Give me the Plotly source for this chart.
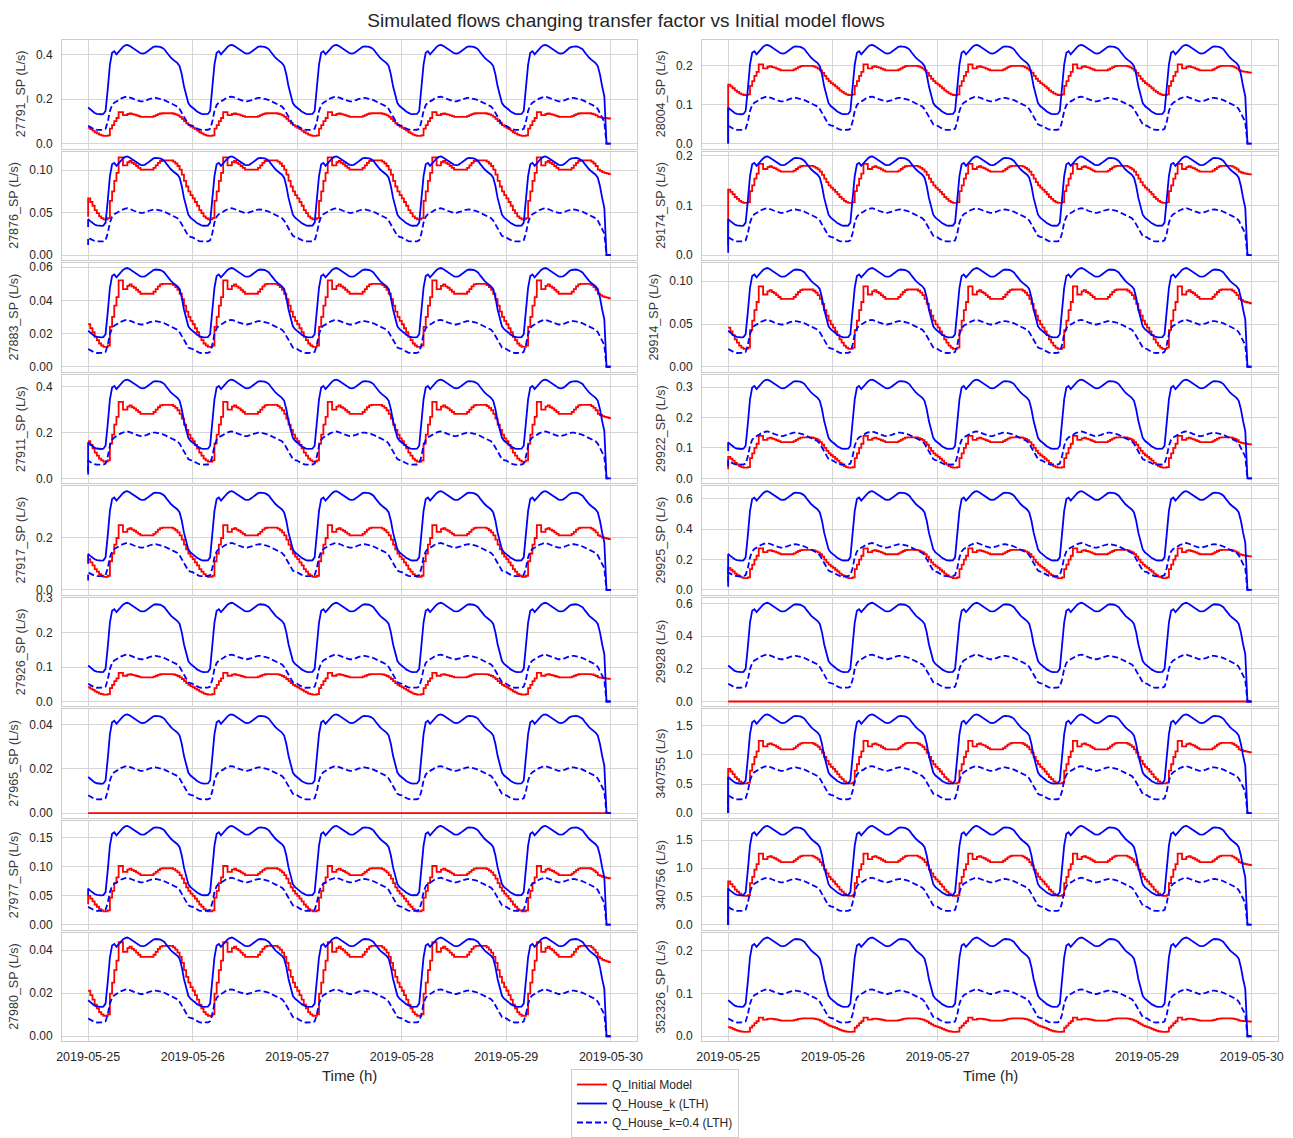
import pandas as pd
import plotly.graph_objects as go

# ---------------- data ----------------
START = "2019-05-25 00:00"
N_DAYS = 5
STEP = "30min"

# daily half-hourly profiles, blue normalised to its daily peak
blue_profile = [0.365, 0.345, 0.325, 0.31, 0.302, 0.298, 0.297, 0.30, 0.33, 0.55, 0.80, 0.92,
                0.935, 0.905, 0.93, 0.96, 0.98, 0.995, 1.0, 0.99, 0.975, 0.96, 0.94, 0.925,
                0.915, 0.912, 0.915, 0.93, 0.95, 0.97, 0.98, 0.985, 0.985, 0.98, 0.97, 0.955,
                0.925, 0.895, 0.87, 0.85, 0.835, 0.815, 0.785, 0.70, 0.58, 0.48, 0.41, 0.38]
# k=0.4 curve, relative to the blue peak
dashed_profile = [0.18, 0.165, 0.152, 0.143, 0.139, 0.137, 0.137, 0.14, 0.15, 0.22, 0.33, 0.39,
                  0.415, 0.425, 0.44, 0.455, 0.465, 0.472, 0.475, 0.47, 0.46, 0.45, 0.44, 0.432,
                  0.428, 0.428, 0.432, 0.44, 0.45, 0.458, 0.462, 0.463, 0.46, 0.455, 0.448, 0.44,
                  0.43, 0.42, 0.41, 0.40, 0.39, 0.375, 0.35, 0.31, 0.26, 0.22, 0.195, 0.185]
# initial model, 0 = daily minimum, 1 = daily maximum
red_profile = [0.34, 0.28, 0.22, 0.15, 0.10, 0.05, 0.02, 0.0, 0.0, 0.02, 0.30, 0.45,
               0.62, 0.75, 1.0, 1.0, 0.87, 0.87, 0.92, 0.94, 0.91, 0.89, 0.86, 0.83,
               0.80, 0.80, 0.80, 0.80, 0.80, 0.80, 0.83, 0.87, 0.91, 0.94, 0.95, 0.95,
               0.95, 0.95, 0.95, 0.93, 0.90, 0.86, 0.80, 0.72, 0.62, 0.53, 0.45, 0.39]
# last points of the series (end of 2019-05-29)
blue_tail = [0.0, 0.0, 0.0]
dashed_tail = [0.0, 0.0, 0.0]
red_tail = [0.80, 0.78, 0.76, 0.75, 0.74, 0.73, 0.73]

left_labels = ["27791_SP (L/s)", "27876_SP (L/s)", "27883_SP (L/s)", "27911_SP (L/s)",
               "27917_SP (L/s)", "27926_SP (L/s)", "27965_SP (L/s)", "27977_SP (L/s)",
               "27980_SP (L/s)"]
left_blue_peak = [0.445, 0.116, 0.0595, 0.43, 0.376, 0.287, 0.0445, 0.17, 0.0458]
left_red_min = [0.035, 0.042, 0.012, 0.073, 0.05, 0.02, 0.0, 0.023, 0.0095]
left_red_max = [0.142, 0.115, 0.052, 0.333, 0.247, 0.083, 0.0, 0.101, 0.0436]
left_tick_step = [0.2, 0.05, 0.02, 0.2, 0.2, 0.1, 0.02, 0.05, 0.02]
left_start = [None, (0.033, 0.012, 0.045), None, (0.017, 0.03, None), (0.10, 0.036, None),
              None, None, (0.05, None, 0.035), None]

right_labels = ["28004_SP (L/s)", "29174_SP (L/s)", "29914_SP (L/s)", "29922_SP (L/s)",
                "29925_SP (L/s)", "29928 (L/s)", "340755 (L/s)", "340756 (L/s)",
                "352326_SP (L/s)"]
right_blue_peak = [0.254, 0.198, 0.1155, 0.325, 0.65, 0.605, 1.70, 1.75, 0.231]
right_red_min = [0.125, 0.105, 0.021, 0.035, 0.078, 0.0, 0.51, 0.51, 0.01]
right_red_max = [0.204, 0.183, 0.094, 0.14, 0.274, 0.0, 1.245, 1.26, 0.0434]
right_tick_step = [0.1, 0.1, 0.05, 0.1, 0.2, 0.2, 0.5, 0.5, 0.1]
right_start = [(0.0, None, 0.0), (0.005, None, 0.02), None, (0.09, 0.04, 0.03),
               (0.02, 0.05, 0.10), None, (0.0, 0.0, 0.0), (0.0, 0.0, 0.0), None]

day_ticks = ["2019-05-25", "2019-05-26", "2019-05-27", "2019-05-28", "2019-05-29", "2019-05-30"]

series_names = ["Q_Initial Model", "Q_House_k (LTH)", "Q_House_k=0.4 (LTH)"]

# ---------------- layout constants ----------------
W, H = 1293, 1138
COLS = [(62, 637), (702, 1278)]
TOP, BOTTOM, GAP, NROWS = 40, 1043, 3, 9
ROW_H = (BOTTOM - TOP - GAP * (NROWS - 1)) / NROWS
FONT = "Liberation Sans, Arial, sans-serif"
TXT = "#262626"
GRID = "#d6d6d6"
EDGE = "#cccccc"

times = pd.date_range(START, periods=N_DAYS * 48 + 1, freq=STEP)


def tile(profile, tail):
    vals = list(profile) * N_DAYS + [profile[0]]
    vals[-len(tail):] = tail
    return vals


fig = go.Figure()
annotations = []
layout = {}

columns = [
    (left_labels, left_blue_peak, left_red_min, left_red_max, left_tick_step, left_start),
    (right_labels, right_blue_peak, right_red_min, right_red_max, right_tick_step, right_start),
]

n = 0
for c, (labels, peaks, rmins, rmaxs, steps, starts) in enumerate(columns):
    x0, x1 = COLS[c]
    for r in range(NROWS):
        n += 1
        peak, rmin, rmax = peaks[r], rmins[r], rmaxs[r]
        blue = [peak * v for v in tile(blue_profile, blue_tail)]
        dash = [peak * v for v in tile(dashed_profile, dashed_tail)]
        red = [rmin + (rmax - rmin) * v for v in tile(red_profile, red_tail)]
        xs = list(times)
        st = starts[r]
        if st is not None:
            xs = [times[0]] + xs
            blue = [st[0] if st[0] is not None else blue[0]] + blue
            dash = [st[1] if st[1] is not None else dash[0]] + dash
            red = [st[2] if st[2] is not None else red[0]] + red
        xa = "x" if n == 1 else f"x{n}"
        ya = "y" if n == 1 else f"y{n}"
        first = (n == 1)
        fig.add_trace(go.Scatter(x=xs, y=red, mode="lines", line=dict(color="#ff0000", width=1.8, shape="hv"),
                                 name=series_names[0], showlegend=first, xaxis=xa, yaxis=ya))
        fig.add_trace(go.Scatter(x=xs, y=blue, mode="lines", line=dict(color="#0000ff", width=1.8),
                                 name=series_names[1], showlegend=first, xaxis=xa, yaxis=ya))
        fig.add_trace(go.Scatter(x=xs, y=dash, mode="lines",
                                 line=dict(color="#0000ff", width=1.8, dash="6px,3px"),
                                 name=series_names[2], showlegend=first, xaxis=xa, yaxis=ya))

        top = TOP + r * (ROW_H + GAP)
        bot = top + ROW_H
        ydom = [1 - bot / H, 1 - top / H]
        xdom = [x0 / W, x1 / W]
        M = max(max(blue), max(dash), max(red))
        yr = [-0.05 * M, 1.05 * M]
        decimals = 2 if steps[r] < 0.1 else 1
        kx = "xaxis" if n == 1 else f"xaxis{n}"
        ky = "yaxis" if n == 1 else f"yaxis{n}"
        layout[kx] = dict(domain=xdom, anchor=ya, type="date", automargin=False,
                          range=["2019-05-24 18:00", "2019-05-30 06:00"],
                          tickvals=day_ticks, ticktext=day_ticks,
                          showticklabels=(r == NROWS - 1), ticks="", ticklabelstandoff=4,
                          showgrid=True, gridcolor=GRID, gridwidth=1,
                          showline=True, mirror=True, linecolor=EDGE, linewidth=1,
                          zeroline=False, tickfont=dict(size=12.5, color=TXT, family=FONT))
        layout[ky] = dict(domain=ydom, anchor=xa, range=yr, tick0=0, dtick=steps[r], automargin=False,
                          tickformat=f".{decimals}f", ticks="", ticklabelstandoff=6,
                          showgrid=True, gridcolor=GRID, gridwidth=1,
                          showline=True, mirror=True, linecolor=EDGE, linewidth=1,
                          zeroline=False, tickfont=dict(size=12, color=TXT, family=FONT))
        lab_x = (x0 - (48 if decimals == 2 else 41)) / W
        annotations.append(dict(text=labels[r], x=lab_x, y=1 - (top + bot) / 2 / H,
                                xref="paper", yref="paper", showarrow=False, textangle=-90,
                                xanchor="center", yanchor="middle",
                                font=dict(size=12.5, color="#3a3a3a", family=FONT)))
    annotations.append(dict(text="Time (h)", x=(x0 + x1) / 2 / W, y=1 - 1077 / H,
                            xref="paper", yref="paper", showarrow=False,
                            xanchor="center", yanchor="middle",
                            font=dict(size=15, color=TXT, family=FONT)))

fig.update_layout(**layout)
fig.update_layout(
    width=W, height=H, autosize=False,
    margin=dict(l=0, r=0, t=0, b=0, pad=0),
    paper_bgcolor="white", plot_bgcolor="white",
    font=dict(family=FONT, color=TXT),
    title=dict(text="Simulated flows changing transfer factor vs Initial model flows",
               x=626 / W, xanchor="center", y=1 - 20 / H, yanchor="middle", yref="container",
               font=dict(size=19, color=TXT, family=FONT)),
    annotations=annotations,
    legend=dict(x=655 / W, xanchor="center", y=1 - 1071 / H, yanchor="top",
                bgcolor="white", bordercolor=EDGE, borderwidth=1,
                font=dict(size=12, color=TXT, family=FONT), tracegroupgap=0),
    showlegend=True,
)

fig.write_html("out.html")
